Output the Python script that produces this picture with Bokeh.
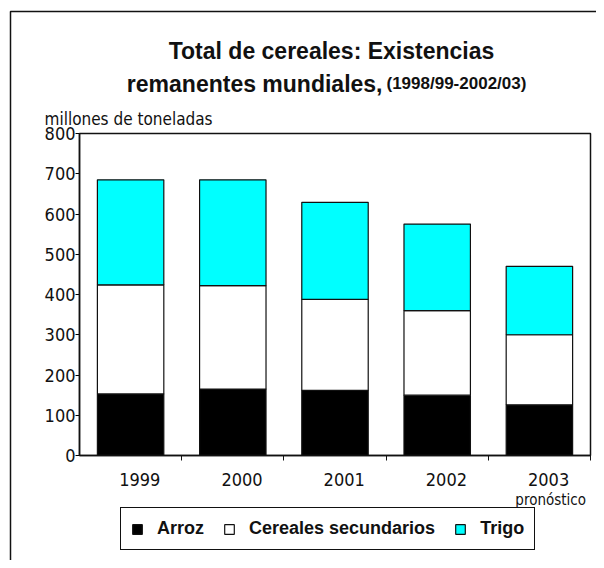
import numpy as np
from bokeh.plotting import figure
from bokeh.models import (Range1d, FixedTicker, Legend, LegendItem, Label,
                          BoxAnnotation, ColumnDataSource)
from bokeh.embed import file_html
from bokeh.resources import INLINE

# ---- data ----
years = ["1999", "2000", "2001", "2002", "2003"]
arroz = [153, 165, 162, 150, 126]
cereales_sec = [271, 257, 226, 210, 174]
trigo = [261, 263, 241, 215, 170]
series_names = ["Arroz", "Cereales secundarios", "Trigo"]
series_colors = ["#000000", "#ffffff", "#00ffff"]
y_ticks = [0, 100, 200, 300, 400, 500, 600, 700, 800]
y_max = 800

title_1 = "Total de cereales: Existencias"
title_2a = "remanentes mundiales,"
title_2b = "(1998/99-2002/03)"
y_title = "millones de toneladas"
forecast_note = "pronóstico"

TICK_FONT = "DejaVu Sans Condensed"
BOLD_FONT = "Liberation Sans"
INK = "#111111"

# ---- layout (pixels) ----
W, H = 596, 560
PL, PR, PT, PB = 79, 590, 133, 455   # plot box edges on the canvas

n = len(years)
xc = [i + 0.5 for i in range(n)]
src = ColumnDataSource(dict(x=xc, Arroz=arroz, Cereales=cereales_sec, Trigo=trigo))

# the frame fills the whole canvas; the data box sits where the plot box is
ux = n / (PR - PL)
uy = y_max / (PB - PT)
x_rng = Range1d(-PL * ux, n + (W - PR) * ux)
y_rng = Range1d(-(H - PB) * uy, y_max + PT * uy)

p = figure(width=W, height=H, output_backend="svg", toolbar_location=None,
           x_range=x_rng, y_range=y_rng, min_border=0,
           background_fill_color="white", border_fill_color="white")
p.grid.visible = False
p.outline_line_color = None

rs = p.vbar_stack(["Arroz", "Cereales", "Trigo"], x="x", width=0.65, source=src,
                  fill_color=series_colors, line_color=INK, line_width=1.2)

# plot box outline
p.add_layout(BoxAnnotation(left=0, right=n, bottom=0, top=y_max, fill_alpha=0,
                           line_color=INK, line_width=1.5, line_alpha=1))

# y axis
yax = p.yaxis[0]
yax.fixed_location = 0
yax.bounds = (0, y_max)
yax.ticker = FixedTicker(ticks=y_ticks)
yax.axis_line_width = 1.5
yax.axis_line_color = INK
yax.major_tick_out = 4
yax.major_tick_in = 0
yax.minor_tick_out = 0
yax.minor_tick_in = 0
yax.major_label_standoff = 0
yax.major_label_text_font = TICK_FONT
yax.major_label_text_font_size = "18px"
yax.major_label_text_color = INK

# x axis: labels at category centres, ticks at category boundaries
lab_pos = [c + 0.09 for c in xc]
xax = p.xaxis[0]
xax.fixed_location = 0
xax.bounds = (0, n)
xax.ticker = FixedTicker(ticks=lab_pos, minor_ticks=list(range(1, n + 1)))
xax.major_label_overrides = {lp: y for lp, y in zip(lab_pos, years)}
xax.axis_line_width = 1.5
xax.axis_line_color = INK
xax.major_tick_out = 0
xax.major_tick_in = 0
xax.minor_tick_out = 5
xax.minor_tick_in = 0
xax.minor_tick_line_color = INK
xax.major_label_standoff = 12
xax.major_label_text_font = TICK_FONT
xax.major_label_text_font_size = "18px"
xax.major_label_text_color = INK

# forecast note under the last year
p.add_layout(Label(x=xc[-1] + 0.11, y=499, y_units="canvas", text=forecast_note,
                   text_align="center", text_baseline="alphabetic",
                   text_font=TICK_FONT, text_font_size="15px", text_color=INK))

# titles
p.add_layout(Label(x=331, y=50, x_units="canvas", y_units="canvas", text=title_1,
                   text_align="center", text_baseline="alphabetic",
                   text_font=BOLD_FONT, text_font_style="bold", text_font_size="23px",
                   text_color=INK))
p.add_layout(Label(x=382, y=83, x_units="canvas", y_units="canvas", text=title_2a,
                   text_align="right", text_baseline="alphabetic",
                   text_font=BOLD_FONT, text_font_style="bold", text_font_size="23px",
                   text_color=INK))
p.add_layout(Label(x=386, y=83, x_units="canvas", y_units="canvas", text=title_2b,
                   text_align="left", text_baseline="alphabetic",
                   text_font=BOLD_FONT, text_font_style="bold", text_font_size="17px",
                   text_color=INK))
p.add_layout(Label(x=44, y=118, x_units="canvas", y_units="canvas", text=y_title,
                   text_align="left", text_baseline="alphabetic",
                   text_font=TICK_FONT, text_font_size="17px", text_color=INK))

# outer frame (its right and bottom edges fall outside the page, as in the source)
p.add_layout(BoxAnnotation(left=10, right=W + 300, top=11, bottom=H + 300,
                           left_units="canvas", right_units="canvas",
                           top_units="canvas", bottom_units="canvas",
                           fill_alpha=0, line_color=INK, line_width=1.5, line_alpha=1))

# legend
legend = Legend(items=[LegendItem(label=nm, renderers=[r]) for nm, r in zip(series_names, rs)],
                location=(120, H - 550), orientation="horizontal",
                glyph_width=12, glyph_height=12, label_height=12,
                label_standoff=14, spacing=19, padding=10, margin=0,
                label_text_font=BOLD_FONT, label_text_font_style="bold",
                label_text_font_size="18px", label_text_color=INK,
                border_line_color=INK, border_line_width=1.5, border_line_alpha=1,
                background_fill_color="white", background_fill_alpha=1)
p.add_layout(legend, "center")

open("out.html", "w").write(file_html(p, INLINE))
